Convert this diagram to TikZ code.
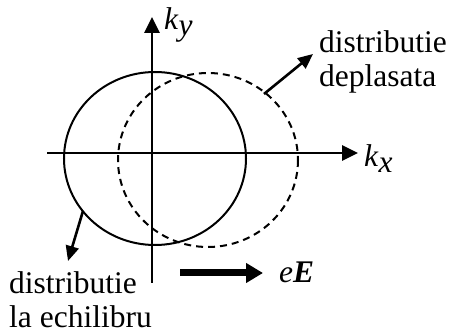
\documentclass[tikz,border=0pt]{standalone}
\usepackage{fontspec}
\setmainfont{Liberation Serif}
\usetikzlibrary{arrows.meta}
\begin{document}
\begin{tikzpicture}[x=1pt,y=-1pt,
  lbl/.style={font=\fontsize{31.5}{34}\selectfont, inner sep=0pt, anchor=base west, align=left},
  axis/.style={line width=2.8pt, -{Triangle[length=16pt,width=15pt]}},
  pointer/.style={line width=2.6pt, -{Triangle[length=15pt,width=13pt]}},
  field/.style={line width=7pt, -{Triangle[length=17pt,width=19pt]}},
  eq/.style={line width=2pt},
  shifted/.style={line width=2pt, dash pattern=on 7pt off 5pt}]
\useasboundingbox (0,0) rectangle (451,334);
% axes
\coordinate (xs) at (47,153);
\coordinate (xe) at (358,153);
\coordinate (ys) at (152,283);
\coordinate (ye) at (152,17);
% distributions
\draw[eq] (155,158.5) ellipse [x radius=91, y radius=86.5];
\draw[shifted] (208,160) ellipse [x radius=90, y radius=87];
\draw[axis] (xs) -- (xe);
\draw[axis] (ys) -- (ye);
% labels
\node[lbl] (ky) at (164,30) {\textit{k}$_{\textit{y}}$};
\node[lbl] (kx) at (364,167) {\textit{k}$_{\textit{x}}$};
\node[lbl] (dep) at (319,87) {distributie\\deplasata};
\node[lbl] (ech) at (9,328) {distributie\\la echilibru};
\node[lbl] (eE) at (279,283) {\textit{e}\textbf{\textit{E}}};
% pointers
\coordinate (p1s) at (264,94);
\coordinate (p1e) at (313,54);
\coordinate (p2s) at (83,211);
\coordinate (p2e) at (68,261);
\draw[pointer] (p1s) -- (p1e);
\draw[pointer] (p2s) -- (p2e);
\coordinate (fs) at (180,273);
\coordinate (fe) at (263,273);
\draw[field] (fs) -- (fe);
\end{tikzpicture}
\end{document}
